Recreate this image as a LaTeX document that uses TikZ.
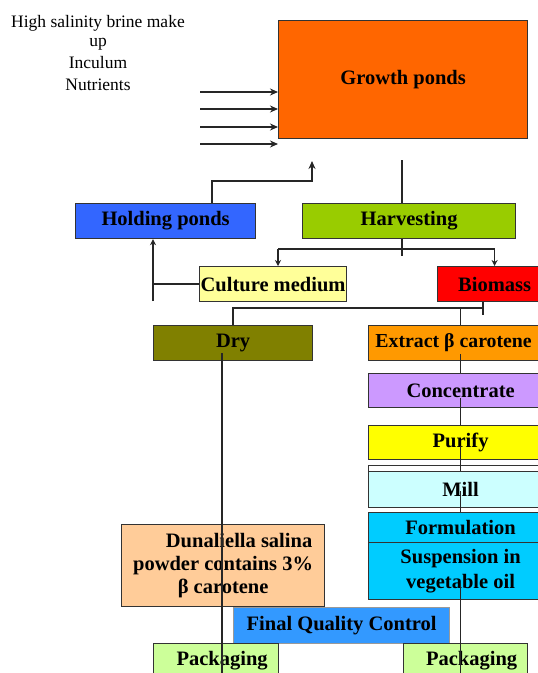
\documentclass[tikz,border=0pt]{standalone}
\usepackage{fontspec}
\setmainfont{Liberation Serif}
\usetikzlibrary{arrows.meta}
\begin{document}
\begin{tikzpicture}[x=1pt,y=-1pt,
  box/.style={draw=black!80, line width=1.2pt, inner sep=0pt, anchor=north west,
    font=\fontsize{20.5}{23}\selectfont\bfseries, align=center},
  conn/.style={draw=black!85, line width=1.3pt},
  arr/.style={conn, -{Stealth[length=8pt,width=7pt]}},
  sarr/.style={conn, -{Stealth[length=6pt,width=6pt]}},
  lefttext/.style={font=\fontsize{17.5}{20}\selectfont, anchor=base, inner sep=0pt}]
\clip (0,0) rectangle (538,673);
\fill[white] (0,0) rectangle (538,673);

% left labels
\node[lefttext] (lt1) at (98,27) {High salinity brine make};
\node[lefttext] (lt2) at (98,46) {up};
\node[lefttext] (lt3) at (98,68) {Inculum};
\node[lefttext] (lt4) at (98,90) {Nutrients};

% boxes
\node[box, fill={rgb,255:red,255;green,102;blue,0}, minimum width=249, minimum height=118] (gp) at (278,20) {Growth ponds};
\node[box, fill={rgb,255:red,51;green,102;blue,255}, minimum width=180, minimum height=35] (hp) at (75,203) {Holding ponds};
\node[box, fill={rgb,255:red,153;green,204;blue,0}, minimum width=213, minimum height=35] (hv) at (302,203) {Harvesting};
\node[box, fill={rgb,255:red,255;green,255;blue,153}, minimum width=147, minimum height=35] (cm) at (199,266) {Culture medium};
\node[box, fill={rgb,255:red,255;green,0;blue,0}, minimum width=114, minimum height=35] (bm) at (437,266) {Biomass};
\node[box, fill={rgb,255:red,128;green,128;blue,0}, minimum width=159, minimum height=35] (dry) at (153,325) {Dry};
\node[box, fill={rgb,255:red,255;green,153;blue,0}, minimum width=184, minimum height=35,
  font=\fontsize{19.8}{23}\selectfont\bfseries] (ex) at (368,325) {\hspace*{-14pt}Extract β carotene};
\node[box, fill={rgb,255:red,204;green,153;blue,255}, minimum width=184, minimum height=34] (cc) at (368,373) {Concentrate};
\node[box, fill={rgb,255:red,255;green,255;blue,0}, minimum width=184, minimum height=34] (pu) at (368,425) {Purify};
\node[box, fill=white, minimum width=184, minimum height=6] (mf) at (368,465) {};
\node[box, fill={rgb,255:red,204;green,255;blue,255}, minimum width=184, minimum height=36] (mi) at (368,471) {Mill};
\node[box, fill={rgb,255:red,0;green,204;blue,255}, minimum width=184, minimum height=30] (fo) at (368,512) {Formulation};
\node[box, fill={rgb,255:red,0;green,204;blue,255}, minimum width=184, minimum height=57,
  font=\fontsize{20.5}{25}\selectfont\bfseries] (su) at (368,542) {Suspension in\\vegetable oil};
\node[box, fill={rgb,255:red,255;green,204;blue,153}, minimum width=203, minimum height=82] (du) at (121,524)
  {\hspace*{32pt}Dunaliella salina\\powder contains 3\%\\β carotene};
\node[box, draw=black!40, fill={rgb,255:red,51;green,153;blue,255}, minimum width=216, minimum height=36] (fq) at (233,607) {Final Quality Control};
\node[box, fill={rgb,255:red,204;green,255;blue,153}, minimum width=125, minimum height=35] (pl) at (153,643) {\hspace*{12pt}Packaging};
\node[box, fill={rgb,255:red,204;green,255;blue,153}, minimum width=124, minimum height=35] (pr) at (403,643) {\hspace*{12pt}Packaging};

% inputs into growth ponds
\coordinate (in1) at (200,92);
\coordinate (in2) at (200,109);
\coordinate (in3) at (200,127);
\coordinate (in4) at (200,144);
\foreach \c in {in1,in2,in3,in4} \draw[arr] (\c) -- (\c -| gp.west);

% holding ponds return to growth ponds
\coordinate (r0) at (212,181);
\coordinate (r1) at (312,161);
\draw[arr] (hp.north -| r0) |- (r1 |- r0) -- (r1);

% growth ponds to harvesting
\coordinate (g0) at (402,160);
\draw[conn] (g0) -- (g0 |- hv.north);

% harvesting split
\coordinate (h1) at (278,249);
\draw[conn] (hv.south -| g0) -- ++(0,17);
\draw[conn] (h1) -- (h1 -| bm.north);
\draw[sarr] (h1) -- (h1 |- cm.north);
\draw[sarr] (h1 -| bm.north) -- (bm.north);

% culture medium to holding ponds
\coordinate (c1) at (153,301);
\draw[conn] (cm.west) -- (cm.west -| c1);
\draw[sarr] (c1) -- (c1 |- hp.south);

% biomass split
\coordinate (b1) at (483,308);
\draw[conn] (bm.south -| b1) -- ++(0,13);
\draw[conn] (b1) -- (b1 -| dry.north) -- (dry.north);
\draw[conn] (b1 -| ex.north) -- (ex.north);

% extraction chain
\draw[conn] ([yshift=7pt]ex.south) -- (cc.north);
\draw[conn] ([yshift=10pt]cc.south) -- (pu.north);
\draw[conn] ([yshift=14pt]pu.south) -- (mi.north);
\draw[conn] ([yshift=17pt]mi.south) -- (fo.north);
\draw[conn] ([yshift=16pt]su.south) -- (pr.south -| su.south);

% dry chain
\coordinate (d1) at (222,353);
\draw[conn] (d1) -- (d1 |- pl.south);
\end{tikzpicture}
\end{document}
